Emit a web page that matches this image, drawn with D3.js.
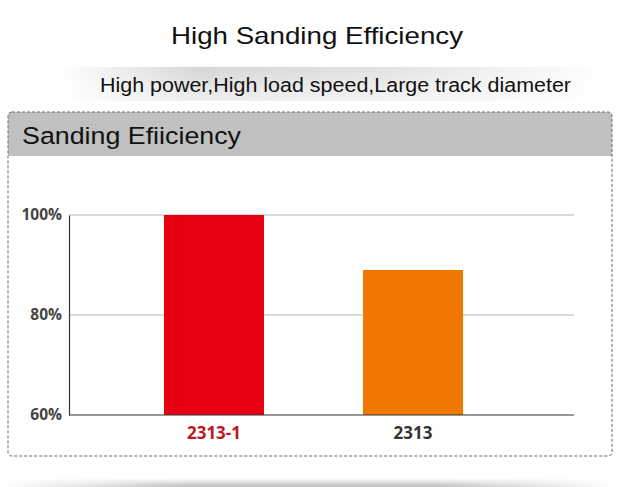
<!DOCTYPE html>
<html><head><meta charset="utf-8">
<script src="https://cdn.jsdelivr.net/npm/d3@7/dist/d3.min.js"></script>
<style>body{margin:0;background:#fff;}svg{display:block;}</style>
</head><body>
<script>
const categories = ["2313-1", "2313"];
const values = [100, 89];
const barColors = ["#e60012", "#f07800"];
const labelColors = ["#c0141e", "#333333"];
const yTicks = [60, 80, 100];
const title = "High Sanding Efficiency";
const subtitle = "High power,High load speed,Large track diameter";
const panelTitle = "Sanding Efiiciency";

const W = 620, H = 487;
const svg = d3.select("body").append("svg").attr("width", W).attr("height", H);
const defs = svg.append("defs");

const g1 = defs.append("linearGradient").attr("id","band").attr("x1","0").attr("x2","1");
g1.append("stop").attr("offset","0").attr("stop-color","#fff");
g1.append("stop").attr("offset","0.25").attr("stop-color","#d6d6d6");
g1.append("stop").attr("offset","0.6").attr("stop-color","#e2e2e2");
g1.append("stop").attr("offset","1").attr("stop-color","#fff");
const g1v = defs.append("linearGradient").attr("id","bandv").attr("x1","0").attr("x2","0").attr("y1","0").attr("y2","1");
g1v.append("stop").attr("offset","0").attr("stop-color","#fff").attr("stop-opacity","0");
g1v.append("stop").attr("offset","1").attr("stop-color","#fff").attr("stop-opacity","0.6");
const g2 = defs.append("linearGradient").attr("id","shadow").attr("x1","0").attr("x2","1");
g2.append("stop").attr("offset","0").attr("stop-color","#fff");
g2.append("stop").attr("offset","0.3").attr("stop-color","#bdbdbd");
g2.append("stop").attr("offset","0.7").attr("stop-color","#bdbdbd");
g2.append("stop").attr("offset","1").attr("stop-color","#fff");
const g3 = defs.append("linearGradient").attr("id","shadowv").attr("x1","0").attr("x2","0").attr("y1","0").attr("y2","1");
g3.append("stop").attr("offset","0").attr("stop-color","#fff").attr("stop-opacity","1");
g3.append("stop").attr("offset","1").attr("stop-color","#fff").attr("stop-opacity","0");

const sans = "Liberation Sans, Arial, sans-serif";
svg.append("text").attr("x", 171).attr("y", 44)
  .attr("font-family", sans).attr("font-size", 24).attr("fill","#111")
  .attr("textLength", 292).attr("lengthAdjust","spacingAndGlyphs").text(title);

svg.append("rect").attr("x", 60).attr("y", 67).attr("width", 545).attr("height", 34).attr("fill","url(#band)");
svg.append("rect").attr("x", 60).attr("y", 67).attr("width", 545).attr("height", 34).attr("fill","url(#bandv)");
svg.append("text").attr("x", 100).attr("y", 92)
  .attr("font-family", sans).attr("font-size", 19.5).attr("fill","#111")
  .attr("textLength", 471).attr("lengthAdjust","spacingAndGlyphs").text(subtitle);

svg.append("rect").attr("x", 0).attr("y", 478).attr("width", W).attr("height", 9).attr("fill","url(#shadow)");
svg.append("rect").attr("x", 0).attr("y", 478).attr("width", W).attr("height", 9).attr("fill","url(#shadowv)");

const px = 8, py = 112, pw = 604, ph = 344;
svg.append("path")
  .attr("d", `M${px},${py+44} L${px},${py+4} Q${px},${py} ${px+4},${py} L${px+pw-4},${py} Q${px+pw},${py} ${px+pw},${py+4} L${px+pw},${py+44} Z`)
  .attr("fill","#c1c0c0");
svg.append("rect").attr("x", px).attr("y", py).attr("width", pw).attr("height", ph).attr("rx", 4)
  .attr("fill","none").attr("stroke","#666").attr("stroke-width",1).attr("stroke-dasharray","3,2");
svg.append("text").attr("x", 22).attr("y", 144)
  .attr("font-family", sans).attr("font-size", 24.5).attr("fill","#111")
  .attr("textLength", 219).attr("lengthAdjust","spacingAndGlyphs").text(panelTitle);

const x0 = 69, xEnd = 574, yTop = 215, yBot = 415;
const y = d3.scaleLinear().domain([60, 100]).range([yBot, yTop]);
const x = d3.scaleBand().domain(categories).range([x0, 558]).paddingInner(0.4975).paddingOuter(0.477);

const g = svg.append("g");
g.selectAll("line.grid").data(yTicks.filter(d => d > 60)).enter().append("line")
  .attr("x1", x0).attr("x2", xEnd).attr("y1", d => y(d)).attr("y2", d => y(d))
  .attr("stroke","#b5b5b5").attr("stroke-width",1);

g.selectAll("rect.bar").data(categories).enter().append("rect")
  .attr("x", d => x(d)).attr("width", x.bandwidth())
  .attr("y", (d,i) => y(values[i])).attr("height", (d,i) => yBot - y(values[i]))
  .attr("fill", (d,i) => barColors[i]);

const yAxis = d3.axisLeft(y).tickValues(yTicks).tickFormat(d => d + "%").tickSize(0).tickPadding(7);
const ya = svg.append("g").attr("transform", `translate(${x0},0)`).call(yAxis);
ya.select(".domain").attr("stroke","#333").attr("stroke-width",1.2);
ya.selectAll("text").attr("font-family","Open Sans, DejaVu Sans, sans-serif").attr("font-weight","bold")
  .attr("font-size", 15.5).attr("fill","#444");

svg.append("line").attr("x1", x0).attr("x2", xEnd).attr("y1", yBot).attr("y2", yBot)
  .attr("stroke","#333").attr("stroke-width",1.2);
const xAxis = d3.axisBottom(x).tickSize(0).tickPadding(12);
const xa = svg.append("g").attr("transform", `translate(0,${yBot})`).call(xAxis);
xa.select(".domain").remove();
xa.selectAll("text").attr("font-family","Open Sans, DejaVu Sans, sans-serif").attr("font-weight","bold")
  .attr("font-size", 17).attr("fill", (d,i) => labelColors[i]);
</script>
</body></html>
